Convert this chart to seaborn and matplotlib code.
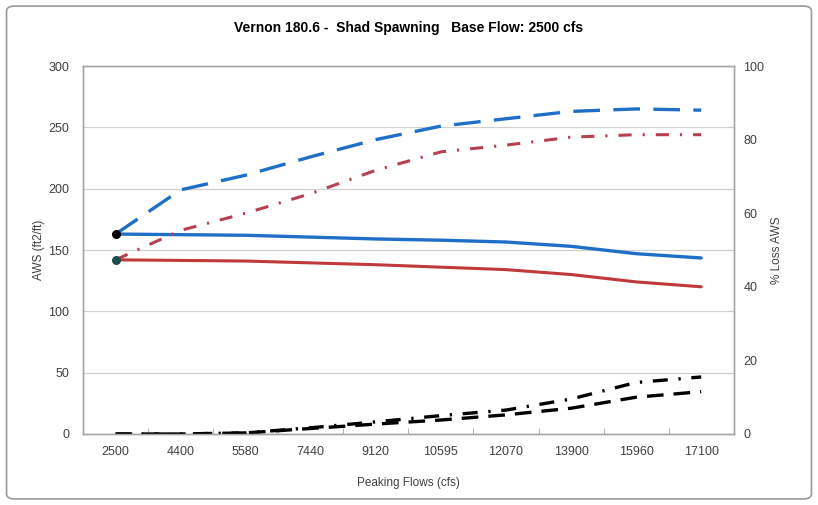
import numpy as np
import pandas as pd
import matplotlib.pyplot as plt
import seaborn as sns
from matplotlib.patches import FancyBboxPatch

# --- datos ---
flows = ["2500", "4400", "5580", "7440", "9120", "10595", "12070", "13900", "15960", "17100"]

# eje izquierdo: AWS (ft2/ft)
aws_blue = [163, 162.5, 162, 160.5, 159, 158, 156.5, 153, 147, 143.5]
aws_red = [142, 141.5, 141, 139.5, 138, 136, 134, 130, 124, 120]
aws_blue_dash = [163, 199, 211, 226, 240, 251, 257, 263, 265, 264]
aws_red_dashdot = [142, 166, 180, 196, 215, 230, 235.5, 242, 244, 244]

# eje derecho: % Loss AWS
loss_dashdot = [0, 0, 0.3, 1.7, 3.3, 5, 6.5, 9.5, 14, 15.5]
loss_dash = [0, 0, 0.3, 1.5, 2.7, 3.8, 5.2, 7, 10, 11.5]

df = pd.DataFrame({
    "pos": np.arange(len(flows)),
    "aws_blue": aws_blue,
    "aws_red": aws_red,
    "aws_blue_dash": aws_blue_dash,
    "aws_red_dashdot": aws_red_dashdot,
    "loss_dashdot": loss_dashdot,
    "loss_dash": loss_dash,
})

sns.set_style("white")
plt.rcParams["font.family"] = ["Liberation Sans", "DejaVu Sans"]

azul = "#1f6fc6"
rojo = "#c0393b"
rojo2 = "#b84050"
gris = "#a6a6a6"
texto = "#404040"

fig = plt.figure(figsize=(8.18, 5.05), dpi=100)
ax = fig.add_axes([0.1015, 0.1406, 0.7955, 0.7287])
ax2 = ax.twinx()

sns.lineplot(data=df, x="pos", y="aws_blue", ax=ax, color=azul, lw=2.4)
sns.lineplot(data=df, x="pos", y="aws_red", ax=ax, color=rojo, lw=2.2)
sns.lineplot(data=df, x="pos", y="aws_blue_dash", ax=ax, color=azul, lw=2.4,
             linestyle=(0, (8, 4)))
sns.lineplot(data=df, x="pos", y="aws_red_dashdot", ax=ax, color=rojo2, lw=2.2,
             linestyle=(0, (4.3, 3.6, 0.7, 3.6)))
ax.scatter(df["pos"][:1], df["aws_blue"][:1], s=30, color="black", zorder=5)
ax.scatter(df["pos"][:1], df["aws_red"][:1], s=30, color="#1d4d4f", zorder=5)

sns.lineplot(data=df, x="pos", y="loss_dashdot", ax=ax2, color="black", lw=2.4,
             linestyle=(0, (4.5, 3.2, 0.7, 3.2)))
sns.lineplot(data=df, x="pos", y="loss_dash", ax=ax2, color="black", lw=2.4,
             linestyle=(0, (5, 3)))

# --- ejes ---
ax.set_xlim(-0.5, len(flows) - 0.5)
ax.set_ylim(0, 300)
ax.set_yticks(np.arange(0, 301, 50))
ax2.set_ylim(0, 100)
ax2.set_yticks(np.arange(0, 101, 20))
ax.set_xticks(df["pos"])
ax.set_xticklabels(flows)
ax.set_xticks(np.arange(-0.5, len(flows), 1), minor=True)

ax.yaxis.grid(True, color="#d0d0d0", lw=0.9)
ax.set_axisbelow(True)

for a in (ax, ax2):
    for s in a.spines.values():
        s.set_color(gris)
        s.set_linewidth(1.0)

ax.tick_params(axis="x", which="major", length=0, pad=9, labelsize=9, labelcolor=texto)
ax.tick_params(axis="x", which="minor", bottom=True, length=4, direction="in", color=gris)
ax.tick_params(axis="y", length=0, pad=10, labelsize=9, labelcolor=texto)
ax2.tick_params(axis="y", length=0, pad=7, labelsize=9, labelcolor=texto)

ax.set_xlabel("Peaking Flows (cfs)", fontsize=8.5, color=texto, labelpad=13)
ax.set_ylabel("AWS (ft2/ft)", fontsize=8.5, color=texto)
ax2.set_ylabel("% Loss AWS", fontsize=8.5, color=texto, rotation=90)
ax.yaxis.set_label_coords(-0.058, 0.5)
ax2.yaxis.set_label_coords(1.058, 0.5)

fig.text(0.5, 0.945, "Vernon 180.6 -  Shad Spawning   Base Flow: 2500 cfs",
         ha="center", va="center", fontsize=10, fontweight="bold", color="black")

# borde del grafico
fig.patches.append(FancyBboxPatch((0.008, 0.012), 0.984, 0.976,
                                  boxstyle="round,pad=0,rounding_size=0.01",
                                  transform=fig.transFigure, fill=False,
                                  edgecolor="#9a9a9a", lw=1.2))

fig.savefig("out.png", dpi=100)
